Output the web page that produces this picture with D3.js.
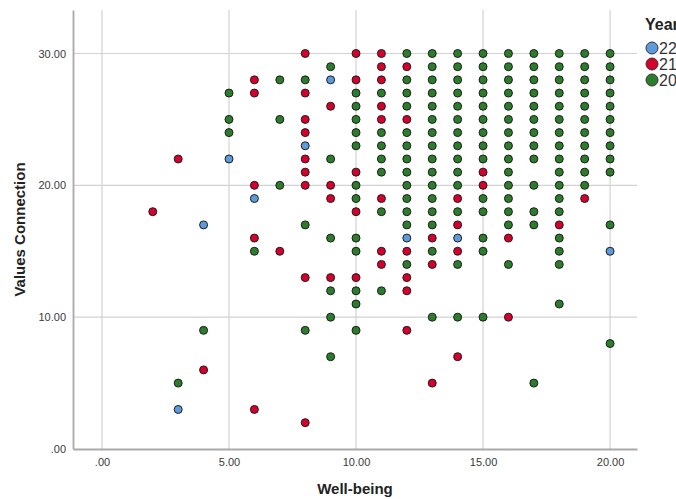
<!DOCTYPE html>
<html>
<head>
<meta charset="utf-8">
<script src="https://cdn.jsdelivr.net/npm/d3@7"></script>
<style>
  body { margin: 0; background: #fff; }
  svg { display: block; font-family: "Liberation Sans", Arial, sans-serif; }
</style>
</head>
<body>
<div id="chart"></div>
<script>
// values: [well-being, values connection]
const years = ["22", "21", "20"]
const points22 = [[3,3],[4,17],[5,22],[6,19],[8,23],[9,28],[12,16],[14,16],[20,15]]
const points21 = [
    [2,18],[3,22],[4,6],
    [6,28],[6,27],[6,20],[6,16],[6,3],
    [7,15],
    [8,30],[8,27],[8,25],[8,24],[8,22],[8,21],[8,20],[8,13],[8,2],
    [9,26],[9,20],[9,19],[9,13],
    [10,30],[10,28],[10,21],[10,18],[10,13],
    [11,30],[11,29],[11,28],[11,26],[11,25],[11,19],[11,15],[11,14],
    [12,29],[12,25],[12,15],[12,13],[12,12],[12,9],
    [13,16],[13,14],[13,5],
    [14,19],[14,17],[14,15],[14,7],
    [15,21],[15,20],[16,16],[16,10],[18,17],[19,19]
]
const points20 = [
    [3,5],[4,9],[5,27],[5,25],[5,24],[6,15],[7,28],[7,25],[7,20],
    [8,28],[8,17],[8,9],
    [9,29],[9,22],[9,16],[9,12],[9,10],[9,7],
    [10,27],[10,26],[10,25],[10,24],[10,23],[10,20],[10,19],[10,16],[10,15],[10,12],[10,11],[10,9],
    [11,27],[11,24],[11,23],[11,22],[11,21],[11,18],[11,12],
    [12,30],[12,28],[12,27],[12,26],[12,24],[12,23],[12,22],[12,21],[12,20],[12,19],[12,18],[12,17],[12,14],
    [13,30],[13,29],[13,28],[13,27],[13,26],[13,25],[13,24],[13,23],[13,22],[13,21],[13,20],[13,19],[13,18],[13,17],[13,15],[13,10],
    [14,30],[14,29],[14,28],[14,27],[14,26],[14,25],[14,24],[14,23],[14,22],[14,21],[14,20],[14,18],[14,14],[14,10],
    [15,30],[15,29],[15,28],[15,27],[15,26],[15,25],[15,24],[15,23],[15,22],[15,19],[15,18],[15,16],[15,15],[15,10],
    [16,30],[16,29],[16,28],[16,27],[16,26],[16,25],[16,24],[16,23],[16,22],[16,21],[16,20],[16,19],[16,18],[16,17],[16,14],
    [17,30],[17,29],[17,28],[17,27],[17,26],[17,25],[17,24],[17,23],[17,22],[17,20],[17,18],[17,17],[17,5],
    [18,30],[18,29],[18,28],[18,27],[18,26],[18,25],[18,24],[18,23],[18,22],[18,21],[18,20],[18,19],[18,18],[18,16],[18,15],[18,14],[18,11],
    [19,30],[19,29],[19,28],[19,27],[19,26],[19,25],[19,24],[19,23],[19,22],[19,21],[19,20],
    [20,30],[20,29],[20,28],[20,27],[20,26],[20,25],[20,24],[20,23],[20,22],[20,21],[20,17],[20,8]
]
const xTicks = [0, 5, 10, 15, 20]
const yTicks = [0, 10, 20, 30]

const colors = { "22": "#5b9bdb", "21": "#d5002c", "20": "#2b7d2b" }

const width = 676
const height = 499
const plot = { left: 73, right: 637, top: 10, bottom: 449 }

const fmt = v => v === 0 ? ".00" : d3.format(".2f")(v)

const svg = d3.select("#chart")
    .append("svg")
    .attr("width", width)
    .attr("height", height)

const x = d3.scaleLinear().domain([-1.14, 21.06]).range([plot.left, plot.right])
const y = d3.scaleLinear().domain([0, 33.3]).range([plot.bottom, plot.top])

// gridlines
svg.append("g").selectAll("line")
    .data(xTicks)
    .join("line")
    .attr("x1", d => x(d)).attr("x2", d => x(d))
    .attr("y1", plot.top).attr("y2", plot.bottom)
    .attr("stroke", "#d2d2d2")
    .attr("stroke-width", 1.2)
svg.append("g").selectAll("line")
    .data(yTicks.filter(d => d > 0))
    .join("line")
    .attr("x1", plot.left).attr("x2", plot.right)
    .attr("y1", d => y(d)).attr("y2", d => y(d))
    .attr("stroke", "#d2d2d2")
    .attr("stroke-width", 1.2)

// axes
var gx = svg.append("g")
    .attr("transform", `translate(0,${plot.bottom})`)
    .call(d3.axisBottom(x).tickValues(xTicks).tickFormat(fmt).tickSize(0).tickPadding(9))
var gy = svg.append("g")
    .attr("transform", `translate(${plot.left},0)`)
    .call(d3.axisLeft(y).tickValues(yTicks).tickFormat(fmt).tickSize(0).tickPadding(7))

;[gx, gy].forEach(g => {
    g.select(".domain").attr("stroke", "#a9a9a9").attr("stroke-width", 1.8)
    g.selectAll("text")
        .attr("font-size", 11)
        .attr("fill", "#3a3a3a")
        .attr("font-family", "Liberation Sans, Arial, sans-serif")
})

// axis titles
svg.append("text")
    .attr("x", (plot.left + plot.right) / 2)
    .attr("y", 494)
    .attr("text-anchor", "middle")
    .attr("font-size", 15)
    .attr("font-weight", "bold")
    .attr("fill", "#222")
    .text("Well-being")
svg.append("text")
    .attr("transform", `translate(25,${(plot.top + plot.bottom) / 2}) rotate(-90)`)
    .attr("text-anchor", "middle")
    .attr("font-size", 15)
    .attr("font-weight", "bold")
    .attr("fill", "#222")
    .text("Values Connection")

// points
const series = [
    { year: "22", pts: points22 },
    { year: "21", pts: points21 },
    { year: "20", pts: points20 },
]
series.forEach(s => {
    svg.append("g").selectAll("circle")
        .data(s.pts)
        .join("circle")
        .attr("cx", d => x(d[0]))
        .attr("cy", d => y(d[1]))
        .attr("r", 4)
        .attr("fill", colors[s.year])
        .attr("stroke", "#1e1e1e")
        .attr("stroke-width", 1)
})

// legend
var legend = svg.append("g")
legend.append("text")
    .attr("x", 645).attr("y", 30)
    .attr("font-size", 16)
    .attr("font-weight", "bold")
    .attr("fill", "#222")
    .text("Year")
var item = legend.selectAll("g.item")
    .data(years)
    .join("g")
    .attr("class", "item")
    .attr("transform", (d, i) => `translate(652,${48 + i * 16})`)
item.append("circle")
    .attr("r", 6)
    .attr("fill", d => colors[d])
    .attr("stroke", "#333")
    .attr("stroke-width", 1)
item.append("text")
    .attr("x", 7)
    .attr("y", 5.5)
    .attr("font-size", 16)
    .attr("fill", "#333")
    .text(d => d)
</script>
</body>
</html>
